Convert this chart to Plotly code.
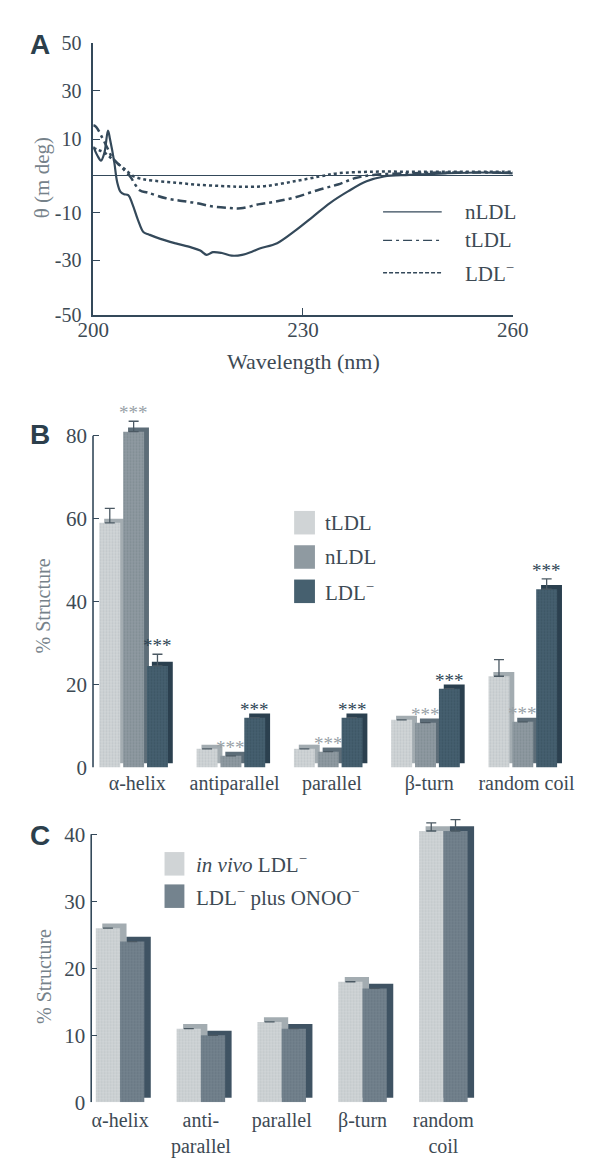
import plotly.graph_objects as go

W, H = 593, 1165

# ---------------- Panel A : CD spectra ----------------
nldl_wl = [200, 200.6, 201.1, 201.6, 202.1, 202.4, 203.0, 203.4, 203.9, 204.4, 205.0, 205.6,
           206.4, 207.2, 208.0, 209.6, 211.8, 214.0, 215.3, 216.2, 217.1, 218.4, 219.8, 221.3,
           222.7, 223.8, 226.3, 228.8, 231.4, 233.9, 236.5, 239.1, 241.6, 245.2, 250.4, 255.5, 260]
nldl_theta = [10.9, 7.5, 5.7, 8.7, 17.0, 13.6, 5.1, -2.2, -6.1, -7.0, -7.3, -10.7,
              -16.7, -21.3, -22.2, -23.8, -25.5, -27.0, -28.2, -29.8, -28.8, -29.1, -30.1, -29.8,
              -28.6, -27.4, -25.4, -20.9, -15.5, -10.2, -5.8, -2.1, -0.3, 0.3, 0.9, 1.2, 0.9]

tldl_wl = [200, 200.4, 201.3, 202.0, 202.7, 203.3, 204.2, 205.3, 206.0, 206.7, 207.8, 210.4,
           212.7, 214.9, 217.1, 219.3, 221.1, 223.8, 226.0, 228.8, 232.4, 235.0, 237.5, 240.1,
           245.2, 250, 255, 260]
tldl_theta = [19, 18.4, 14.2, 10.5, 6.9, 5.1, 2.7, -0.4, -3.4, -5.6, -6.4, -8.5,
              -9.5, -10.4, -11.6, -12.1, -12.3, -10.7, -9.8, -8.2, -5.2, -3.3, -0.9, 0.3,
              0.9, 1.2, 1.2, 1.2]

ldlm_wl = [200, 200.7, 201.6, 202.7, 203.8, 204.7, 205.6, 206.9, 208.7, 211.3, 214.9, 219.3,
           221.5, 224.7, 228.8, 232.4, 235.0, 240.1, 245.2, 250, 255, 260]
ldlm_theta = [10.5, 9.7, 8.7, 6.3, 3.9, 2.1, 0.0, -1.2, -1.9, -2.5, -3.4, -4.0,
              -4.2, -3.9, -2.1, -0.3, 0.9, 1.5, 1.5, 1.5, 1.5, 1.5]

a_ytick_pos = [50, 32, 13.8, -14, -31.8, -52.4]
a_ytick_text = ["50", "30", "10", "-10", "-30", "-50"]
a_xticks = [200, 230, 260]

# ---------------- Panel B : % structure ----------------
b_cats = ["α-helix", "antiparallel", "parallel", "β-turn", "random coil"]
b_tldl = [59, 4.5, 4.5, 11.5, 22]
b_tldl_err = [3.5, 0, 0, 0, 4]
b_nldl = [81, 2.8, 3.8, 10.8, 11]
b_nldl_err = [2.5, 0, 0, 0, 0]
b_ldlm = [24.5, 12, 12, 19, 43]
b_ldlm_err = [2.8, 0, 0, 0, 2.5]
b_yticks = [0, 20, 40, 60, 80]
b_star_label = "***"

# ---------------- Panel C ----------------
c_cats = ["α-helix", "anti-<br>parallel", "parallel", "β-turn", "random<br>coil"]
c_vivo = [26, 11, 12, 18, 40.5]
c_vivo_err = [0, 0, 0, 0, 1.2]
c_onoo = [24, 10, 11, 17, 40.5]
c_onoo_err = [0, 0, 0, 0, 1.7]
c_yticks = [0, 10, 20, 30, 40]

# ---------------- styling ----------------
SERIF = "Liberation Serif, Times New Roman, serif"
SANS = "Liberation Sans, Arial, sans-serif"
INK = "#34495a"
TXT = "#3d4a54"
GREY_TXT = "#76828a"

C_LIGHT = ("#d0d4d6", "#aeb5b9", "#a3acb1")   # front bg, dots, side
C_MID = ("#8f9aa1", "#6e7b84", "#5d6d78")
C_DARK = ("#46606f", "#30475a", "#2b404f")
C_ONOO = ("#74838e", "#566672", "#3f5363")


def xp(px):
    return px / W


def yp(px):
    return 1 - px / H


fig = go.Figure()

# ---- Panel A traces ----
fig.add_trace(go.Scatter(x=nldl_wl, y=nldl_theta, mode="lines", line=dict(color=INK, width=2.2),
                         line_shape="spline", xaxis="x", yaxis="y", hoverinfo="skip"))
fig.add_trace(go.Scatter(x=tldl_wl, y=tldl_theta, mode="lines",
                         line=dict(color=INK, width=2.5, dash="9px,4px,3px,4px"),
                         line_shape="spline", xaxis="x", yaxis="y", hoverinfo="skip"))
fig.add_trace(go.Scatter(x=ldlm_wl, y=ldlm_theta, mode="lines",
                         line=dict(color=INK, width=2.5, dash="3px,3px"),
                         line_shape="spline", xaxis="x", yaxis="y", hoverinfo="skip"))


def bars3d(xa, ya, vals, errs, offset, width, cols, dx, dy):
    idx = list(range(len(vals)))
    fig.add_trace(go.Bar(x=idx, y=vals, base=[dy] * len(vals), offset=offset + dx, width=width,
                         marker=dict(color=cols[2], line=dict(width=0)),
                         xaxis=xa, yaxis=ya, hoverinfo="skip"))
    fig.add_trace(go.Bar(x=idx, y=vals, offset=offset, width=width,
                         marker=dict(color=cols[0], line=dict(width=0),
                                     pattern=dict(shape=".", size=3, solidity=0.35,
                                                  fgcolor=cols[1], bgcolor=cols[0])),
                         error_y=dict(type="data", symmetric=False, array=errs,
                                      arrayminus=[0] * len(vals), color="#4b5963",
                                      thickness=1.3, width=5, visible=True),
                         xaxis=xa, yaxis=ya, hoverinfo="skip"))


# ---- Panel B bars ----
B_W, B_DX, B_DY = 0.215, 0.05, 1.0
B_OFF = [-0.39, -0.145, 0.10]
bars3d("x2", "y2", b_tldl, b_tldl_err, B_OFF[0], B_W, C_LIGHT, B_DX, B_DY)
bars3d("x2", "y2", b_nldl, b_nldl_err, B_OFF[1], B_W, C_MID, B_DX, B_DY)
bars3d("x2", "y2", b_ldlm, b_ldlm_err, B_OFF[2], B_W, C_DARK, B_DX, B_DY)

# ---- Panel C bars ----
C_W, C_DX, C_DY = 0.30, 0.08, 0.7
C_OFF = [-0.30, 0.0]
bars3d("x3", "y3", c_vivo, c_vivo_err, C_OFF[0], C_W, C_LIGHT, C_DX, C_DY)
bars3d("x3", "y3", c_onoo, c_onoo_err, C_OFF[1], C_W, C_ONOO, C_DX, C_DY)

idx5 = list(range(5))

# ---------------- layout ----------------
tickfont = dict(family=SERIF, size=21, color=TXT)

layout = dict(
    width=W, height=H, margin=dict(l=0, r=0, t=0, b=0),
    paper_bgcolor="white", plot_bgcolor="white", showlegend=False, barmode="overlay",
    # Panel A
    xaxis=dict(domain=[xp(81.7), xp(525)], range=[200, 260], tickvals=a_xticks,
               ticks="inside", ticklen=7, tickcolor=INK, tickwidth=1.3,
               showline=True, linecolor=INK, linewidth=1.6, showgrid=False, zeroline=False,
               tickfont=dict(family=SERIF, size=21, color=TXT), ticklabelstandoff=-5,
               anchor="y"),
    yaxis=dict(domain=[yp(310), yp(32.5)], range=[-52.4, 50], tickvals=a_ytick_pos,
               ticktext=a_ytick_text, ticks="inside", ticklen=7, tickcolor=INK, tickwidth=1.3,
               showline=True, linecolor=INK, linewidth=1.6, showgrid=False,
               zeroline=True, zerolinecolor=INK, zerolinewidth=1.4,
               tickfont=dict(family=SERIF, size=20, color=TXT), ticklabelstandoff=6,
               anchor="x"),
    # Panel B
    xaxis2=dict(domain=[xp(81.4), xp(591)], range=[-0.455, 4.5], tickvals=idx5, ticktext=b_cats,
                ticks="", showline=False, showgrid=False, zeroline=False,
                tickfont=dict(family=SERIF, size=20, color=TXT), ticklabelstandoff=2,
                anchor="y2"),
    yaxis2=dict(domain=[yp(771.7), yp(399.5)], range=[0, 88], tickvals=b_yticks,
                ticks="inside", ticklen=6, tickcolor=INK, tickwidth=1.3,
                showline=False, showgrid=False, zeroline=False,
                tickfont=tickfont, ticklabelstandoff=5, anchor="x2"),
    # Panel C
    xaxis3=dict(domain=[xp(79.5), xp(490.8)], range=[-0.357, 4.457], tickvals=idx5, ticktext=c_cats,
                ticks="", showline=False, showgrid=False, zeroline=False,
                tickfont=dict(family=SERIF, size=20, color=TXT), ticklabelstandoff=4,
                anchor="y3"),
    yaxis3=dict(domain=[yp(1113.3), yp(812.6)], range=[0, 44], tickvals=c_yticks,
                ticks="inside", ticklen=6, tickcolor=INK, tickwidth=1.3,
                showline=False, showgrid=False, zeroline=False,
                tickfont=tickfont, ticklabelstandoff=5, anchor="x3"),
)
fig.update_layout(**layout)

shapes = []
# y spines for B and C that stop at the top tick
shapes.append(dict(type="line", xref="x2 domain", x0=0, x1=0, yref="y2", y0=0, y1=80,
                   line=dict(color=INK, width=1.6)))
shapes.append(dict(type="line", xref="x3 domain", x0=0, x1=0, yref="y3", y0=0, y1=40,
                   line=dict(color=INK, width=1.6)))

annotations = []


def ann(text, x, y, size, color=TXT, family=SERIF, xanchor="center", angle=0, **kw):
    annotations.append(dict(text=text, x=xp(x), y=yp(y), xref="paper", yref="paper",
                            xanchor=xanchor, yanchor="middle", showarrow=False, textangle=angle,
                            font=dict(family=family, size=size, color=color), **kw))


# significance stars (placed from the data through the axes)
for i in idx5:
    annotations.append(dict(text=b_star_label, x=i + B_OFF[1] + B_W / 2,
                            y=b_nldl[i] + b_nldl_err[i] + B_DY, xref="x2", yref="y2",
                            xanchor="center", yanchor="bottom", yshift=-8, showarrow=False,
                            font=dict(family=SERIF, size=19, color="#98a1a7")))
    annotations.append(dict(text=b_star_label, x=i + B_OFF[2] + B_W / 2,
                            y=b_ldlm[i] + b_ldlm_err[i] + B_DY, xref="x2", yref="y2",
                            xanchor="center", yanchor="bottom", yshift=-8, showarrow=False,
                            font=dict(family=SERIF, size=19, color="#2f4555")))

# panel letters
for letter, (lx, ly) in zip("ABC", [(25, 34), (25, 432), (25, 841)]):
    ann(f"<b>{letter}</b>", lx, ly, 28, color="#2c3f4c", family=SANS)

# axis titles
ann("θ (m deg)", 27, 170, 21, color=GREY_TXT, angle=-90)
ann("Wavelength (nm)", 304, 358, 22)
ann("% Structure", 29, 607, 20, color=GREY_TXT, angle=-90)
ann("% Structure", 29, 985, 20, color=GREY_TXT, angle=-90)

# Panel A legend
a_leg = [("nLDL", "solid", 205), ("tLDL", "9px,4px,3px,4px", 234), ("LDL<sup>−</sup>", "4px,2px", 267)]
for name, dash, ly in a_leg:
    shapes.append(dict(type="line", xref="paper", yref="paper", x0=xp(388), x1=xp(450),
                       y0=yp(ly), y1=yp(ly), line=dict(color=INK, width=1.3, dash=dash)))
    ann(name, 473, ly, 21, xanchor="left")

# Panel B legend
b_leg = [("tLDL", C_LIGHT[0], 522), ("nLDL", C_MID[0], 557), ("LDL<sup>−</sup>", C_DARK[0], 592)]
for name, col, ly in b_leg:
    shapes.append(dict(type="rect", xref="paper", yref="paper", x0=xp(294), x1=xp(316),
                       y0=yp(ly - 12), y1=yp(ly + 12), fillcolor=col, line=dict(width=0)))
    ann(name, 325, ly, 21, xanchor="left")

# Panel C legend
c_leg = [("<i>in vivo</i> LDL<sup>−</sup>", C_LIGHT[0], 870),
         ("LDL<sup>−</sup> plus ONOO<sup>−</sup>", C_ONOO[0], 903)]
for name, col, ly in c_leg:
    shapes.append(dict(type="rect", xref="paper", yref="paper", x0=xp(157), x1=xp(178),
                       y0=yp(ly - 12), y1=yp(ly + 12), fillcolor=col, line=dict(width=0)))
    ann(name, 188, ly, 21, xanchor="left")

fig.update_layout(shapes=shapes, annotations=annotations)
fig.write_html("out.html")
